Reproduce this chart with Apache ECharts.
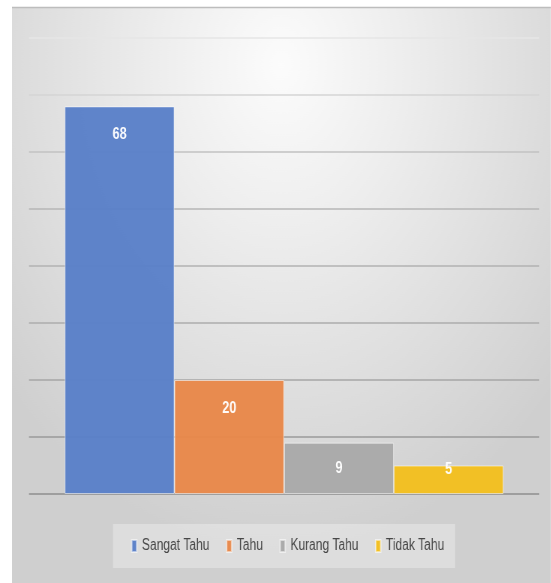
<!DOCTYPE html>
<html>
<head>
<meta charset="utf-8">
<script src="https://cdn.jsdelivr.net/npm/echarts@6/dist/echarts.min.js"></script>
<style>
html,body{margin:0;padding:0;background:#fff;overflow:hidden;}
#wrap{width:551px;height:583px;overflow:hidden;position:relative;}
#c{width:734.67px;height:583px;transform:scaleX(0.75);transform-origin:0 0;position:absolute;left:0;top:0;}
</style>
</head>
<body>
<div id="wrap"><div id="c"></div></div>
<script>
// Data
const categories = ['Sangat Tahu', 'Tahu', 'Kurang Tahu', 'Tidak Tahu'];
const values = [68, 20, 9, 5];
const yTicks = { min: 0, max: 80, interval: 10 };

// Styles
const S = 0.75; // horizontal condensing factor of the reference picture
const X = px => px / S;
const colors = ['#5a80c8', '#e8884a', '#a9a9a9', '#f3bf1f'];
const labelDy = [19, 20, 17, -5];
const gridColors = ['#8e8e8e', '#9a9a9a', '#a6a6a6', '#adadad', '#b2b2b2', '#b6b6b6', '#c2c2c2', '#d4d4d4', '#e6e6e6'];
const fontFam = '"Liberation Sans", Arial, sans-serif';

const chart = echarts.init(document.getElementById('c'), null, { renderer: 'canvas' });

const series = categories.map((name, i) => ({
  name: name,
  type: 'bar',
  barGap: '0%',
  barCategoryGap: '14%',
  itemStyle: { color: colors[i], borderColor: 'rgba(255,255,255,0.55)', borderWidth: 1, opacity: 0.97 },
  label: {
    show: true,
    position: 'insideTop',
    distance: 0,
    offset: [0, labelDy[i]],
    color: '#ffffff',
    fontFamily: fontFam,
    fontWeight: 'bold',
    fontSize: 17
  },
  data: [values[i]],
  z: 3
}));

chart.setOption({
  animation: false,
  graphic: [
    {
      type: 'rect', z: -10, silent: true,
      shape: { x: X(12), y: 7, width: X(539), height: 576 },
      style: {
        fill: {
          type: 'radial', x: 0.5, y: 0.1, r: 0.85,
          colorStops: [
            { offset: 0, color: '#fcfcfc' },
            { offset: 0.35, color: '#ededed' },
            { offset: 0.7, color: '#dddddd' },
            { offset: 1, color: '#cfcfcf' }
          ]
        }
      }
    },
    {
      type: 'line', z: -9, silent: true,
      shape: { x1: X(12), y1: 7.5, x2: X(551), y2: 7.5 },
      style: { stroke: '#bdbdbd', lineWidth: 1.5 }
    }
  ],
  grid: { left: X(29), right: X(12), top: 38, bottom: 89, containLabel: false },
  xAxis: {
    type: 'category',
    data: [''],
    axisLine: { show: false },
    axisTick: { show: false },
    axisLabel: { show: false }
  },
  yAxis: {
    type: 'value',
    min: yTicks.min,
    max: yTicks.max,
    interval: yTicks.interval,
    axisLine: { show: false },
    axisTick: { show: false },
    axisLabel: { show: false },
    splitLine: { show: true, showMinLine: true, showMaxLine: true, lineStyle: { color: gridColors, width: 1.6 } }
  },
  legend: {
    data: categories,
    left: X(113),
    top: 524,
    padding: [14, X(11), 14, X(18)],
    backgroundColor: 'rgba(255,255,255,0.3)',
    itemWidth: X(5),
    itemHeight: 12,
    itemGap: 22,
    icon: 'rect',
    textStyle: {
      color: '#474747',
      fontFamily: fontFam,
      fontSize: 16,
      padding: [0, 0, 0, 2]
    }
  },
  series: series
});
</script>
</body>
</html>
